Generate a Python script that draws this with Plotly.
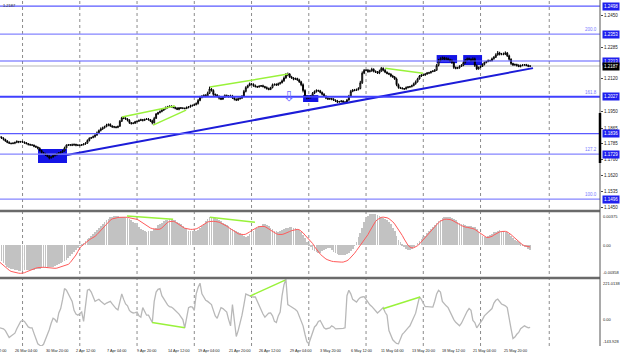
import plotly.graph_objects as go

# ---------------- data (pips above 1.1000, one row per trading day, 6 x 4H bars) -------------
FIRST_BAR = -7          # bar index of the first candle (26 Mar 04:00 = bar 0)
FIRST_OPEN = 820
CLOSE = [
    [818, 812, 806, 798, 790, 786], [784, 786, 790, 795, 792, 794], [792, 788, 784, 780, 777, 776],
    [770, 766, 760, 748, 738, 732], [726, 718, 710, 714, 722, 726], [732, 736, 740, 746, 762, 776],
    [777, 778, 776, 780, 776, 775], [776, 778, 782, 786, 800, 812], [815, 820, 828, 840, 852, 860],
    [866, 872, 880, 884, 876, 872], [870, 868, 874, 900, 918, 916], [912, 905, 893, 888, 890, 898],
    [900, 904, 908, 905, 910, 912], [908, 902, 892, 915, 938, 945], [950, 958, 965, 970, 975, 978],
    [975, 972, 968, 962, 970, 968], [968, 966, 972, 975, 980, 983], [986, 992, 1008, 1025, 1030, 1035],
    [1030, 1045, 1068, 1060, 1040, 1036], [1030, 1020, 1015, 1025, 1035, 1032], [1028, 1032, 1022, 1015, 1010, 1018],
    [1020, 1030, 1055, 1075, 1085, 1095], [1092, 1085, 1080, 1078, 1082, 1085], [1080, 1075, 1070, 1065, 1075, 1090],
    [1092, 1088, 1095, 1100, 1110, 1125], [1140, 1145, 1130, 1125, 1118, 1122], [1115, 1105, 1090, 1060, 1030, 1020],
    [1022, 1030, 1045, 1055, 1060, 1058], [1050, 1040, 1030, 1020, 1015, 1018], [1015, 1010, 1005, 1000, 1002, 1005],
    [1000, 998, 1010, 1030, 1055, 1062], [1060, 1065, 1070, 1100, 1150, 1165], [1165, 1158, 1162, 1170, 1160, 1155],
    [1150, 1160, 1175, 1165, 1155, 1148], [1145, 1135, 1130, 1120, 1090, 1075], [1072, 1070, 1068, 1075, 1078, 1080],
    [1085, 1095, 1105, 1120, 1135, 1140], [1140, 1145, 1150, 1152, 1158, 1160], [1165, 1190, 1215, 1225, 1230, 1222],
    [1225, 1220, 1215, 1205, 1180, 1175], [1178, 1185, 1190, 1205, 1218, 1225], [1222, 1215, 1225, 1190, 1172, 1180],
    [1185, 1195, 1205, 1210, 1215, 1215], [1225, 1232, 1245, 1255, 1248, 1250], [1248, 1255, 1240, 1222, 1200, 1193],
    [1195, 1190, 1185, 1190, 1192, 1194], [1190, 1186, 1187],
]
UP_WICK = [
    [4, 3, 5, 3, 4, 6], [3, 5, 4, 6, 3, 4], [5, 3, 4, 2, 3, 4], [3, 4, 3, 5, 4, 3], [4, 5, 6, 4, 5, 3],
    [3, 4, 3, 5, 6, 4], [5, 3, 6, 4, 3, 5], [3, 4, 3, 5, 6, 4], [4, 6, 5, 7, 5, 8], [6, 5, 7, 4, 5, 3],
    [4, 5, 3, 6, 5, 7], [5, 4, 6, 3, 5, 4], [4, 6, 5, 4, 3, 5], [5, 4, 6, 8, 5, 4], [6, 5, 4, 7, 5, 4],
    [5, 6, 4, 5, 3, 4], [4, 3, 5, 4, 6, 3], [5, 6, 8, 7, 5, 4], [6, 9, 12, 5, 6, 4], [5, 4, 6, 5, 4, 3],
    [4, 6, 5, 8, 4, 5], [5, 6, 8, 7, 5, 6], [4, 5, 6, 4, 5, 3], [5, 4, 6, 5, 4, 6], [4, 5, 6, 5, 7, 8],
    [10, 8, 5, 6, 4, 5], [4, 6, 5, 7, 6, 4], [5, 6, 7, 5, 6, 4], [5, 4, 6, 5, 4, 3], [4, 5, 3, 6, 4, 5],
    [4, 5, 6, 7, 8, 5], [6, 5, 7, 10, 9, 6], [5, 7, 6, 8, 5, 4], [6, 8, 7, 5, 6, 4], [5, 4, 6, 5, 7, 6],
    [4, 5, 3, 6, 5, 4], [5, 6, 7, 6, 5, 4], [4, 5, 6, 5, 4, 6], [6, 8, 9, 7, 6, 5], [8, 6, 5, 7, 6, 4],
    [5, 6, 7, 6, 5, 6], [6, 5, 7, 6, 5, 4], [5, 6, 5, 4, 6, 5], [6, 7, 8, 10, 6, 5], [7, 8, 5, 6, 5, 4],
    [5, 4, 6, 5, 4, 3], [4, 5, 3],
]
DN_WICK = [
    [5, 4, 6, 5, 4, 3], [4, 3, 5, 4, 6, 3], [3, 5, 4, 6, 4, 3], [5, 4, 6, 5, 6, 4], [6, 5, 8, 4, 3, 5],
    [4, 3, 5, 4, 3, 4], [4, 6, 5, 3, 6, 4], [5, 4, 3, 4, 3, 5], [4, 3, 5, 4, 6, 5], [5, 4, 3, 6, 5, 7],
    [6, 5, 4, 3, 4, 5], [4, 6, 7, 5, 3, 4], [5, 4, 3, 6, 4, 3], [4, 6, 8, 4, 3, 5], [4, 3, 5, 4, 3, 5],
    [3, 5, 6, 4, 5, 4], [5, 4, 3, 5, 4, 3], [4, 3, 5, 4, 6, 5], [5, 4, 3, 6, 8, 5], [6, 7, 5, 4, 3, 5],
    [5, 4, 6, 7, 5, 4], [6, 4, 3, 5, 4, 3], [5, 6, 4, 5, 3, 4], [4, 5, 6, 4, 3, 4], [5, 4, 3, 4, 3, 5],
    [4, 6, 5, 4, 5, 3], [5, 6, 8, 10, 9, 6], [4, 3, 5, 4, 6, 5], [5, 6, 4, 5, 3, 4], [6, 4, 5, 6, 3, 4],
    [5, 6, 4, 3, 5, 4], [4, 3, 5, 4, 6, 5], [5, 6, 4, 5, 6, 4], [4, 5, 3, 6, 5, 4], [5, 6, 4, 5, 8, 6],
    [4, 5, 6, 3, 4, 5], [4, 3, 5, 4, 3, 5], [5, 4, 3, 5, 4, 3], [4, 3, 5, 4, 6, 5], [5, 4, 6, 7, 8, 5],
    [4, 5, 3, 4, 5, 4], [5, 6, 4, 8, 6, 4], [4, 3, 5, 4, 3, 5], [4, 5, 3, 4, 6, 5], [5, 4, 6, 7, 8, 6],
    [5, 6, 4, 5, 4, 3], [4, 5, 3],
]
# MACD main (histogram) and signal, in units of 0.00001
MACD_MAIN = [
    [-160, -180, -200, -220, -240, -255], [-265, -272, -278, -282, -285, -286], [-285, -284, -283, -282, -280, -278],
    [-275, -272, -268, -265, -262, -260], [-255, -252, -250, -248, -240, -232], [-220, -210, -200, -190, -175, -165],
    [-140, -120, -100, -80, -55, -30], [-5, 15, 30, 45, 65, 85], [105, 125, 150, 175, 200, 220],
    [240, 260, 280, 300, 315, 322], [328, 330, 326, 320, 318, 316], [315, 305, 295, 280, 265, 250],
    [225, 205, 185, 170, 160, 155], [156, 158, 165, 180, 200, 225], [240, 255, 270, 280, 288, 293],
    [295, 290, 280, 265, 250, 238], [220, 200, 180, 165, 158, 156], [156, 160, 175, 195, 220, 245],
    [270, 295, 315, 318, 316, 312], [300, 285, 270, 255, 240, 228], [215, 200, 185, 170, 160, 150],
    [140, 120, 100, 98, 110, 125], [145, 165, 185, 200, 212, 222], [235, 238, 230, 215, 200, 180],
    [165, 156, 155, 160, 170, 178], [190, 200, 205, 202, 200, 195], [185, 170, 150, 120, 80, 40],
    [10, -20, -50, -70, -80, -85], [-85, -70, -55, -45, -30, -35], [-55, -75, -90, -100, -110, -112],
    [-110, -105, -100, -85, -70, -40], [-5, 40, 90, 140, 190, 260], [300, 330, 348, 352, 352, 350],
    [340, 330, 318, 305, 295, 280], [265, 240, 200, 160, 110, 60], [35, 5, -20, -40, -52, -50],
    [-40, -25, 0, 25, 45, 70], [90, 110, 140, 160, 185, 205], [225, 250, 270, 290, 310, 318],
    [320, 318, 315, 305, 295, 285], [265, 255, 245, 235, 225, 215], [213, 212, 210, 205, 180, 150],
    [130, 100, 88, 90, 100, 115], [130, 145, 155, 165, 168, 166], [160, 155, 145, 125, 100, 80],
    [63, 50, 35, 20, 5, -10], [-25, -40, -52],
]
MACD_SIGNAL = [
    [-190, -210, -230, -250, -268, -282], [-295, -302, -308, -312, -315, -317], [-317, -310, -300, -290, -280, -272],
    [-265, -258, -252, -248, -247, -248], [-250, -253, -256, -258, -260, -260], [-258, -252, -245, -238, -232, -226],
    [-215, -195, -170, -140, -110, -70], [-30, -10, 10, 30, 48, 62], [75, 85, 100, 120, 145, 170],
    [195, 220, 245, 265, 283, 297], [305, 310, 313, 315, 317, 317], [316, 314, 310, 305, 300, 296],
    [292, 280, 265, 250, 235, 220], [205, 195, 188, 182, 180, 180], [182, 195, 215, 240, 258, 268],
    [272, 270, 262, 250, 235, 220], [205, 192, 185, 180, 179, 179], [180, 185, 195, 210, 225, 240],
    [252, 262, 268, 271, 270, 268], [265, 260, 250, 240, 228, 215], [200, 185, 170, 155, 140, 130],
    [124, 121, 121, 125, 135, 150], [165, 180, 192, 202, 210, 213], [213, 210, 200, 185, 170, 155],
    [140, 130, 122, 121, 122, 128], [135, 145, 155, 165, 172, 178], [179, 175, 162, 140, 115, 90],
    [75, 50, 20, -15, -45, -75], [-100, -120, -140, -155, -165, -175], [-180, -184, -187, -189, -190, -190],
    [-190, -185, -175, -160, -140, -115], [-90, -60, -30, 0, 30, 60], [85, 120, 160, 200, 240, 270],
    [290, 305, 314, 317, 316, 310], [300, 285, 265, 240, 210, 180], [145, 110, 70, 30, 0, -20],
    [-29, -28, -20, -5, 15, 40], [65, 90, 115, 140, 165, 190], [215, 235, 255, 272, 285, 292],
    [294, 294, 290, 283, 273, 260], [248, 235, 222, 212, 205, 202], [200, 195, 188, 179, 165, 150],
    [135, 118, 100, 90, 87, 90], [100, 115, 130, 142, 150, 155], [158, 157, 150, 138, 120, 100],
    [80, 60, 40, 20, 5, -5], [-12, -17, -20],
]
CCI = [
    [-45, -48, -50, -60, -80, -98], [-90, -80, -74, -50, -25, -10], [-5, -10, -25, -40, -45, -45],
    [-75, -110, -132, -140, -144, -135], [-109, -80, -55, -20, 7, 0], [-16, 36, 60, 110, 169, 160],
    [140, 120, 99, 50, 30, 24], [35, 41, -10, 65, 160, 165], [150, 125, 99, 105, 111, 100],
    [90, 82, 90, 96, 99, 85], [70, 60, 53, 95, 140, 110], [85, 75, 50, 40, 36, 38],
    [41, 20, 13, 65, 45, 24], [24, 0, -16, 99, 150, 165], [169, 130, 111, 95, 80, 70],
    [68, 60, 50, 41, 30, 15], [0, -45, 20, 65, 70, 68], [50, 140, 175, 198, 140, 125],
    [105, 99, 90, 82, 50, 20], [7, 40, 65, 60, 50, 41], [0, -34, 82, 0, -92, -60],
    [-20, 24, 80, 140, 135, 128], [125, 123, 123, 100, 75, 60], [30, 13, 25, 35, 36, 20],
    [-10, -16, 20, 41, 130, 190], [221, 82, 75, 68, 65, 55], [45, 20, -10, -34, -80, -121],
    [-132, -100, -60, -40, -30, -10], [-5, -25, -45, -51, -48, -45], [-34, -40, -51, -51, -51, -51],
    [-48, -45, 130, 160, 140, 110], [100, 95, 110, 120, 123, 125], [110, 94, 80, 72, 60, 45],
    [36, 45, 55, 65, 40, 24], [-60, -90, -110, -121, -130, -132], [-110, -80, -70, -55, -45, -34],
    [-10, 20, 35, 80, 123, 110], [90, 70, 70, 70, 70, 68], [100, 140, 160, 150, 99, 85],
    [75, 65, 40, 15, 0, -15], [-25, -34, -20, 5, 30, 45], [60, 50, -5, -16, -45, -30],
    [-20, 0, 20, 30, 41, 50], [60, 90, 105, 111, 100, 85], [80, 75, 65, 0, -50, -103],
    [-95, -80, -70, -50, -40, -34], [-40, -45, -42],
]
CURRENT_PRICE = 1.2187

PRICE_TICKS = [1.2450, 1.2285, 1.2120, 1.1950, 1.1865, 1.1785, 1.1700, 1.1620, 1.1535, 1.1450]
LEVEL_PRICES = [1.2498, 1.2353, 1.2213, 1.2027, 1.1836, 1.1729, 1.1496]
FIB_NAMES = ["200.0", "161.8", "127.2", "100.0"]
FIB_PRICES = [1.2353, 1.2027, 1.1729, 1.1496]

DATE_LABEL_BARS = [-16, 0, 16, 32, 48, 64, 80, 96, 112, 128, 144, 160, 176, 192, 208, 224, 240, 256]
DATE_LABELS = ["23 Mar 12:00", "26 Mar 04:00", "30 Mar 20:00", "2 Apr 12:00", "7 Apr 04:00", "9 Apr 20:00",
               "14 Apr 12:00", "19 Apr 04:00", "21 Apr 20:00", "26 Apr 12:00", "29 Apr 04:00", "3 May 20:00",
               "6 May 12:00", "11 May 04:00", "13 May 20:00", "18 May 12:00", "21 May 04:00", "25 May 20:00"]
WEEK_GRID_BARS = [5, 35, 65, 95, 125, 155, 185, 215, 245, 281]

# chart drawings (bar index, value)
TREND_LINE = [(28.3, 1.1725), (272.5, 1.2176)]
PRICE_DIVERGENCE = [[(57.1, 1.1922), (84.9, 1.1979)], [(73.4, 1.1880), (90.7, 1.1958)],
                    [(103.2, 1.2078), (144.1, 1.2145)], [(195.0, 1.2176), (214.9, 1.2150)]]
MACD_DIVERGENCE = [[(59.7, 0.00329), (83.9, 0.00294)], [(103.2, 0.00317), (126.8, 0.00260)]]
CCI_DIVERGENCE = [[(72.9, -16), (90.1, -45)], [(124.2, 128), (142.6, 215)], [(193.9, 59), (213.3, 123)]]
ZONES = [(13.1, 28.3, 1.1683, 1.1756), (152.0, 160.0, 1.2000, 1.2036),
         (222.0, 232.7, 1.2202, 1.2244), (235.9, 245.8, 1.2192, 1.2244)]
ARROW = (144.7, 1.2031)

MACD_RANGE = (-0.00358, 0.00375)
CCI_RANGE = (-143.928, 221.0138)
PRICE_RANGE = (1.1439, 1.2530)
X_RANGE = (-6.81, 307.6)

# ---------------- build series ----------------
def flat(rows):
    return [v for r in rows for v in r]

closes = [1.1 + v / 10000 for v in flat(CLOSE)]
ups = [v / 10000 for v in flat(UP_WICK)]
dns = [v / 10000 for v in flat(DN_WICK)]
bars = list(range(FIRST_BAR, FIRST_BAR + len(closes)))
opens = [1.1 + FIRST_OPEN / 10000] + closes[:-1]
highs = [max(o, c) + u for o, c, u in zip(opens, closes, ups)]
lows = [min(o, c) - d for o, c, d in zip(opens, closes, dns)]
macd = [v / 100000 for v in flat(MACD_MAIN)]
sig = [v / 100000 for v in flat(MACD_SIGNAL)]
cci = flat(CCI)

FONT = "Liberation Sans, Arial, sans-serif"
fig = go.Figure()

fig.add_trace(go.Candlestick(
    x=bars, open=opens, high=highs, low=lows, close=closes,
    increasing=dict(line=dict(color="black", width=1), fillcolor="white"),
    decreasing=dict(line=dict(color="black", width=1), fillcolor="black"),
    whiskerwidth=0, showlegend=False, xaxis="x", yaxis="y", hoverinfo="skip"))

fig.add_trace(go.Scatter(x=[p[0] for p in TREND_LINE], y=[p[1] for p in TREND_LINE], mode="lines",
                         line=dict(color="#1c1cd8", width=2), xaxis="x", yaxis="y", showlegend=False))
for seg in PRICE_DIVERGENCE:
    fig.add_trace(go.Scatter(x=[p[0] for p in seg], y=[p[1] for p in seg], mode="lines",
                             line=dict(color="#99f23a", width=1.5), xaxis="x", yaxis="y", showlegend=False))

fig.add_trace(go.Bar(x=bars, y=macd, marker=dict(color="#c2c2c2", line=dict(width=0)), width=0.36,
                     xaxis="x2", yaxis="y2", showlegend=False))
fig.add_trace(go.Scatter(x=bars, y=sig, mode="lines", line=dict(color="#ff5a5a", width=1),
                         xaxis="x2", yaxis="y2", showlegend=False))
for seg in MACD_DIVERGENCE:
    fig.add_trace(go.Scatter(x=[p[0] for p in seg], y=[p[1] for p in seg], mode="lines",
                             line=dict(color="#99f23a", width=1.5), xaxis="x2", yaxis="y2", showlegend=False))

fig.add_trace(go.Scatter(x=bars, y=cci, mode="lines", line=dict(color="#b8b8b8", width=1.3),
                         xaxis="x3", yaxis="y3", showlegend=False))
for seg in CCI_DIVERGENCE:
    fig.add_trace(go.Scatter(x=[p[0] for p in seg], y=[p[1] for p in seg], mode="lines",
                             line=dict(color="#99f23a", width=1.5), xaxis="x3", yaxis="y3", showlegend=False))

shapes = []
for gx in WEEK_GRID_BARS:
    shapes.append(dict(type="line", xref="x", yref="paper", x0=gx, x1=gx, y0=0, y1=1,
                       line=dict(color="#8c8c8c", width=1, dash="dot"), layer="below"))
for x0, x1, y0, y1 in ZONES:
    shapes.append(dict(type="rect", xref="x", yref="y", x0=x0, x1=x1, y0=y0, y1=y1,
                       fillcolor="#1414e6", line=dict(width=0), layer="below"))
level_style = {1.2498: ("#5a5aff", 1.2), 1.2353: ("#8585ff", 1.3), 1.2213: ("#5a5aff", 1.1),
               1.2027: ("#4040ff", 2.0), 1.1836: ("#5a5aff", 1.1), 1.1729: ("#8585ff", 1.3),
               1.1496: ("#8585ff", 1.3)}
shapes.append(dict(type="line", xref="paper", yref="y", x0=0, x1=1, y0=CURRENT_PRICE, y1=CURRENT_PRICE,
                   line=dict(color="#cfcfcf", width=1.5), layer="below"))
for lv in LEVEL_PRICES:
    col, w = level_style[lv]
    shapes.append(dict(type="line", xref="paper", yref="y", x0=0, x1=1, y0=lv, y1=lv,
                       line=dict(color=col, width=w)))
# panel separators and right border
H_PLOT = 346.0
for ypx in (211, 278):
    yy = 1 - ypx / H_PLOT
    shapes.append(dict(type="line", xref="paper", yref="paper", x0=0, x1=1, y0=yy, y1=yy,
                       line=dict(color="#6a6a6a", width=2.5)))
shapes.append(dict(type="line", xref="paper", yref="paper", x0=1, x1=1, y0=0, y1=1,
                   line=dict(color="#555555", width=1)))
shapes.append(dict(type="line", xref="paper", yref="paper", x0=1, x1=1, y0=1 - 163 / H_PLOT,
                   y1=1 - 113 / H_PLOT, line=dict(color="black", width=2.5)))

ann = []
small = dict(family=FONT, size=4, color="#222222")
# boxed level labels
for lv in LEVEL_PRICES:
    ann.append(dict(x=1, xref="paper", y=lv, yref="y", xanchor="left", yanchor="middle", xshift=2,
                    text=f"{lv:.4f}", showarrow=False, font=dict(family=FONT, size=4.5, color="white"),
                    bgcolor="#2020ee", borderpad=1))
ann.append(dict(x=1, xref="paper", y=CURRENT_PRICE, yref="y", xanchor="left", yanchor="middle", xshift=2,
                text=f"{CURRENT_PRICE:.4f}", showarrow=False, font=dict(family=FONT, size=4.5, color="white"),
                bgcolor="black", borderpad=1))
for name, fp in zip(FIB_NAMES, FIB_PRICES):
    ann.append(dict(x=1, xref="paper", y=fp, yref="y", xanchor="right", yanchor="bottom", xshift=-1,
                    text=name, showarrow=False, font=dict(family=FONT, size=4.5, color="#7a7aff")))
ann.append(dict(x=0, xref="paper", y=1, yref="paper", xanchor="left", yanchor="top", xshift=1, yshift=-1,
                text=f"{CURRENT_PRICE:.4f}", showarrow=False, font=small))
ann.append(dict(x=ARROW[0], y=ARROW[1], xref="x", yref="y", text="⇩", showarrow=False,
                font=dict(family="DejaVu Sans", size=14, color="#6f6fff")))
# indicator scale labels
for val, txt, anc in ((MACD_RANGE[1], "0.00375", "top"), (0.0, "0.00", "middle"),
                      (MACD_RANGE[0], "-0.00358", "bottom")):
    ann.append(dict(x=1, xref="paper", y=val, yref="y2", xanchor="left", yanchor=anc, xshift=1,
                    text=txt, showarrow=False, font=small))
for val, txt, anc in ((CCI_RANGE[1], "221.0138", "top"), (0.0, "0.00", "middle"),
                      (CCI_RANGE[0], "-143.928", "bottom")):
    ann.append(dict(x=1, xref="paper", y=val, yref="y3", xanchor="left", yanchor=anc, xshift=1,
                    text=txt, showarrow=False, font=small))
# date labels (left aligned at their bar)
span = X_RANGE[1] - X_RANGE[0]
for b, txt in zip(DATE_LABEL_BARS, DATE_LABELS):
    ann.append(dict(x=(b - X_RANGE[0]) / span, xref="paper", y=0, yref="paper", xanchor="left",
                    yanchor="top", yshift=-1, text=txt, showarrow=False,
                    font=dict(family=FONT, size=3.8, color="#222222")))

axis_common = dict(showgrid=False, zeroline=False, showticklabels=False, range=list(X_RANGE),
                   showline=False, ticks="")
fig.update_layout(
    width=620, height=357, margin=dict(l=0, r=20, t=0, b=11),
    paper_bgcolor="white", plot_bgcolor="white", showlegend=False, bargap=0,
    xaxis=dict(axis_common, anchor="y", rangeslider=dict(visible=False)),
    xaxis2=dict(axis_common, anchor="y2", matches="x"),
    xaxis3=dict(axis_common, anchor="y3", matches="x"),
    yaxis=dict(domain=[1 - 210 / H_PLOT, 1], range=list(PRICE_RANGE), side="right", showgrid=False,
               zeroline=False, tickvals=PRICE_TICKS, ticktext=[f"{t:.4f}" for t in PRICE_TICKS],
               tickfont=dict(family=FONT, size=4.5, color="#222222"), ticks="outside", ticklen=2,
               tickcolor="#444444"),
    yaxis2=dict(domain=[1 - 277 / H_PLOT, 1 - 212 / H_PLOT], range=list(MACD_RANGE), showgrid=False,
                zeroline=False, showticklabels=False),
    yaxis3=dict(domain=[0, 1 - 279 / H_PLOT], range=list(CCI_RANGE), showgrid=False,
                zeroline=False, showticklabels=False),
    shapes=shapes, annotations=ann,
)
fig.write_html("out.html", config={"displayModeBar": False},
               post_script="document.body.style.margin='0px';")
